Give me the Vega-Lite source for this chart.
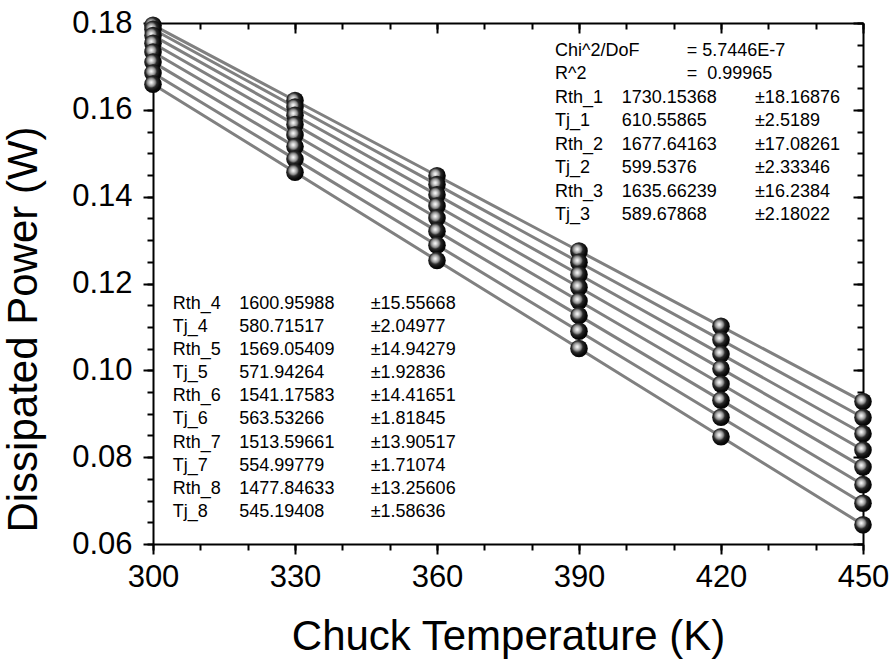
{
  "$schema": "https://vega.github.io/schema/vega-lite/v6.json",
  "width": 710,
  "height": 521,
  "autosize": {"type": "none"},
  "padding": {"left": 153, "top": 23, "right": 31, "bottom": 117},
  "background": "white",
  "config": {
    "view": {"stroke": null},
    "font": "Liberation Sans",
    "axis": {"grid": false, "labelFont": "Liberation Sans", "titleFont": "Liberation Sans", "labelColor": "black", "titleColor": "black", "tickColor": "black", "domainColor": "black", "titleFontWeight": "normal"},
    "text": {"font": "Liberation Sans", "fontSize": 18, "color": "black", "align": "left", "baseline": "middle"}
  },
  "datasets": {
    "pts": [
      {"s": 1, "T": 300, "P": 0.179498}, {"s": 1, "T": 330, "P": 0.162158}, {"s": 1, "T": 360, "P": 0.144819}, {"s": 1, "T": 390, "P": 0.127479}, {"s": 1, "T": 420, "P": 0.110140}, {"s": 1, "T": 450, "P": 0.092800},
      {"s": 2, "T": 300, "P": 0.178547}, {"s": 2, "T": 330, "P": 0.160665}, {"s": 2, "T": 360, "P": 0.142783}, {"s": 2, "T": 390, "P": 0.124901}, {"s": 2, "T": 420, "P": 0.107019}, {"s": 2, "T": 450, "P": 0.089137},
      {"s": 3, "T": 300, "P": 0.177102}, {"s": 3, "T": 330, "P": 0.158761}, {"s": 3, "T": 360, "P": 0.140420}, {"s": 3, "T": 390, "P": 0.122079}, {"s": 3, "T": 420, "P": 0.103738}, {"s": 3, "T": 450, "P": 0.085397},
      {"s": 4, "T": 300, "P": 0.175342}, {"s": 4, "T": 330, "P": 0.156603}, {"s": 4, "T": 360, "P": 0.137864}, {"s": 4, "T": 390, "P": 0.119125}, {"s": 4, "T": 420, "P": 0.100386}, {"s": 4, "T": 450, "P": 0.081647},
      {"s": 5, "T": 300, "P": 0.173316}, {"s": 5, "T": 330, "P": 0.154196}, {"s": 5, "T": 360, "P": 0.135076}, {"s": 5, "T": 390, "P": 0.115956}, {"s": 5, "T": 420, "P": 0.096836}, {"s": 5, "T": 450, "P": 0.077716},
      {"s": 6, "T": 300, "P": 0.170994}, {"s": 6, "T": 330, "P": 0.151528}, {"s": 6, "T": 360, "P": 0.132062}, {"s": 6, "T": 390, "P": 0.112596}, {"s": 6, "T": 420, "P": 0.093130}, {"s": 6, "T": 450, "P": 0.073664},
      {"s": 7, "T": 300, "P": 0.168471}, {"s": 7, "T": 330, "P": 0.148651}, {"s": 7, "T": 360, "P": 0.128831}, {"s": 7, "T": 390, "P": 0.109011}, {"s": 7, "T": 420, "P": 0.089191}, {"s": 7, "T": 450, "P": 0.069371},
      {"s": 8, "T": 300, "P": 0.165913}, {"s": 8, "T": 330, "P": 0.145613}, {"s": 8, "T": 360, "P": 0.125313}, {"s": 8, "T": 390, "P": 0.105013}, {"s": 8, "T": 420, "P": 0.084713}, {"s": 8, "T": 450, "P": 0.064413}
    ],
    "ann1": [
      {"y": 0.17362, "name": "Chi^2/DoF", "val": "", "err": "", "eq": "= 5.7446E-7"},
      {"y": 0.16821, "name": "R^2", "val": "", "err": "", "eq": "=\u00a0 0.99965"},
      {"y": 0.16280, "name": "Rth_1", "val": "1730.15368", "err": "±18.16876", "eq": ""},
      {"y": 0.15738, "name": "Tj_1", "val": "610.55865", "err": "±2.5189", "eq": ""},
      {"y": 0.15197, "name": "Rth_2", "val": "1677.64163", "err": "±17.08261", "eq": ""},
      {"y": 0.14656, "name": "Tj_2", "val": "599.5376", "err": "±2.33346", "eq": ""},
      {"y": 0.14114, "name": "Rth_3", "val": "1635.66239", "err": "±16.2384", "eq": ""},
      {"y": 0.13573, "name": "Tj_3", "val": "589.67868", "err": "±2.18022", "eq": ""}
    ],
    "ann2": [
      {"y": 0.11528, "name": "Rth_4", "val": "1600.95988", "err": "±15.55668"},
      {"y": 0.10996, "name": "Tj_4", "val": "580.71517", "err": "±2.04977"},
      {"y": 0.10464, "name": "Rth_5", "val": "1569.05409", "err": "±14.94279"},
      {"y": 0.09932, "name": "Tj_5", "val": "571.94264", "err": "±1.92836"},
      {"y": 0.09400, "name": "Rth_6", "val": "1541.17583", "err": "±14.41651"},
      {"y": 0.08868, "name": "Tj_6", "val": "563.53266", "err": "±1.81845"},
      {"y": 0.08336, "name": "Rth_7", "val": "1513.59661", "err": "±13.90517"},
      {"y": 0.07804, "name": "Tj_7", "val": "554.99779", "err": "±1.71074"},
      {"y": 0.07272, "name": "Rth_8", "val": "1477.84633", "err": "±13.25606"},
      {"y": 0.06740, "name": "Tj_8", "val": "545.19408", "err": "±1.58636"}
    ]
  },
  "resolve": {"axis": {"x": "independent", "y": "independent"}},
  "layer": [
    {
      "data": {"name": "pts"},
      "mark": {"type": "line", "color": "#808080", "strokeWidth": 3},
      "encoding": {
        "x": {"field": "T", "type": "quantitative", "scale": {"domain": [300, 450], "nice": false, "zero": false},
              "axis": {"orient": "bottom", "title": "Chuck Temperature (K)", "values": [300, 330, 360, 390, 420, 450], "format": "d", "labelFontSize": 31, "labelBaseline": "alphabetic", "labelPadding": 32, "tickSize": 10, "tickWidth": 2, "domainWidth": 2, "titleFontSize": 42, "titleBaseline": "alphabetic", "titleY": 105, "labelFlush": false, "labelOverlap": false}},
        "y": {"field": "P", "type": "quantitative", "scale": {"domain": [0.06, 0.18], "nice": false, "zero": false},
              "axis": {"orient": "left", "title": "Dissipated Power (W)", "values": [0.06, 0.08, 0.10, 0.12, 0.14, 0.16, 0.18], "format": ".2f", "labelFontSize": 31, "labelPadding": 11, "tickSize": 10, "tickWidth": 2, "domainWidth": 2, "titleFontSize": 42, "titleAngle": -90, "titleBaseline": "bottom", "titleX": -108, "titleY": 306, "labelFlush": false, "labelOverlap": false}},
        "detail": {"field": "s"}
      }
    },
    {
      "data": {"name": "pts"},
      "mark": {"type": "point", "shape": "circle", "filled": true, "size": 310, "opacity": 1, "strokeWidth": 0,
               "fill": {"gradient": "radial", "x1": 0.4, "y1": 0.4, "r1": 0, "x2": 0.4, "y2": 0.4, "r2": 0.7,
                        "stops": [{"offset": 0, "color": "#ffffff"}, {"offset": 0.15, "color": "#d0d0d0"}, {"offset": 0.33, "color": "#8a8a8a"}, {"offset": 0.46, "color": "#2a2a2a"}, {"offset": 0.7, "color": "#0a0a0a"}, {"offset": 1, "color": "#000000"}]}},
      "encoding": {
        "x": {"field": "T", "type": "quantitative", "scale": {"domain": [300, 450], "nice": false, "zero": false},
              "axis": {"orient": "bottom", "title": null, "values": [300, 310, 320, 330, 340, 350, 360, 370, 380, 390, 400, 410, 420, 430, 440, 450], "labels": false, "domain": false, "tickSize": 6, "tickWidth": 2}},
        "y": {"field": "P", "type": "quantitative", "scale": {"domain": [0.06, 0.18], "nice": false, "zero": false},
              "axis": {"orient": "left", "title": null, "values": [0.06, 0.065, 0.07, 0.075, 0.08, 0.085, 0.09, 0.095, 0.10, 0.105, 0.11, 0.115, 0.12, 0.125, 0.13, 0.135, 0.14, 0.145, 0.15, 0.155, 0.16, 0.165, 0.17, 0.175, 0.18], "labels": false, "domain": false, "tickSize": 6, "tickWidth": 2}}
      }
    },
    {
      "data": {"name": "ann1"},
      "mark": {"type": "text"},
      "encoding": {
        "x": {"datum": 384.93, "type": "quantitative", "scale": {"domain": [300, 450], "nice": false, "zero": false},
              "axis": {"orient": "top", "title": null, "values": [300, 330, 360, 390, 420, 450], "labels": false, "tickSize": -10, "tickWidth": 2, "domainWidth": 2}},
        "y": {"field": "y", "type": "quantitative", "scale": {"domain": [0.06, 0.18], "nice": false, "zero": false},
              "axis": {"orient": "right", "title": null, "values": [0.06, 0.08, 0.10, 0.12, 0.14, 0.16, 0.18], "labels": false, "tickSize": -10, "tickWidth": 2, "domainWidth": 2}},
        "text": {"field": "name"}
      }
    },
    {
      "data": {"name": "ann1"},
      "mark": {"type": "text"},
      "encoding": {
        "x": {"datum": 399.02, "type": "quantitative", "scale": {"domain": [300, 450], "nice": false, "zero": false},
              "axis": {"orient": "top", "title": null, "values": [300, 310, 320, 330, 340, 350, 360, 370, 380, 390, 400, 410, 420, 430, 440, 450], "labels": false, "domain": false, "tickSize": -6, "tickWidth": 2}},
        "y": {"field": "y", "type": "quantitative", "scale": {"domain": [0.06, 0.18], "nice": false, "zero": false},
              "axis": {"orient": "right", "title": null, "values": [0.06, 0.065, 0.07, 0.075, 0.08, 0.085, 0.09, 0.095, 0.10, 0.105, 0.11, 0.115, 0.12, 0.125, 0.13, 0.135, 0.14, 0.145, 0.15, 0.155, 0.16, 0.165, 0.17, 0.175, 0.18], "labels": false, "domain": false, "tickSize": -6, "tickWidth": 2}},
        "text": {"field": "val"}
      }
    },
    {
      "data": {"name": "ann1"},
      "mark": {"type": "text"},
      "encoding": {
        "x": {"datum": 412.75, "type": "quantitative", "axis": null},
        "y": {"field": "y", "type": "quantitative", "axis": null},
        "text": {"field": "eq"}
      }
    },
    {
      "data": {"name": "ann1"},
      "mark": {"type": "text"},
      "encoding": {
        "x": {"datum": 427.18, "type": "quantitative", "axis": null},
        "y": {"field": "y", "type": "quantitative", "axis": null},
        "text": {"field": "err"}
      }
    },
    {
      "data": {"name": "ann2"},
      "mark": {"type": "text"},
      "encoding": {
        "x": {"datum": 304.16, "type": "quantitative", "axis": null},
        "y": {"field": "y", "type": "quantitative", "axis": null},
        "text": {"field": "name"}
      }
    },
    {
      "data": {"name": "ann2"},
      "mark": {"type": "text"},
      "encoding": {
        "x": {"datum": 318.23, "type": "quantitative", "axis": null},
        "y": {"field": "y", "type": "quantitative", "axis": null},
        "text": {"field": "val"}
      }
    },
    {
      "data": {"name": "ann2"},
      "mark": {"type": "text"},
      "encoding": {
        "x": {"datum": 345.99, "type": "quantitative", "axis": null},
        "y": {"field": "y", "type": "quantitative", "axis": null},
        "text": {"field": "err"}
      }
    }
  ]
}
